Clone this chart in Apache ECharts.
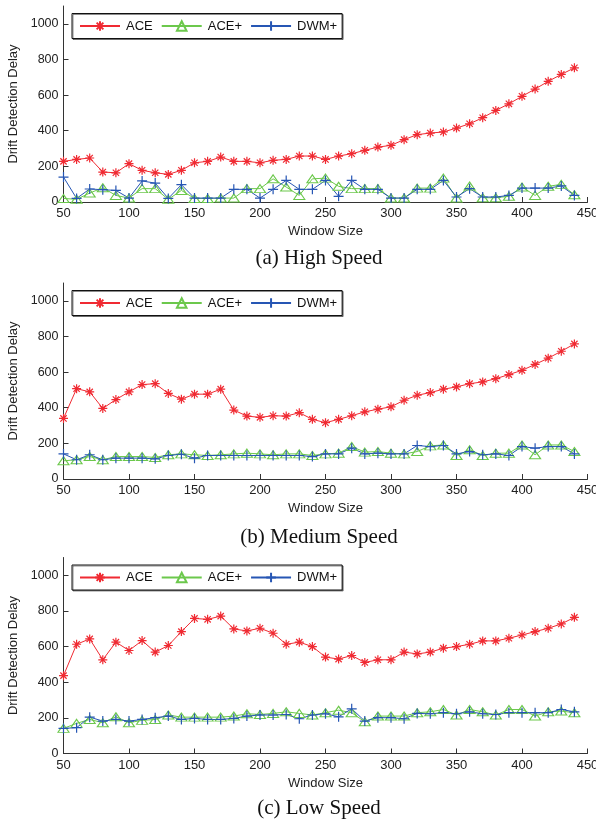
<!DOCTYPE html>
<html><head><meta charset="utf-8">
<script src="https://cdn.jsdelivr.net/npm/echarts@6/dist/echarts.min.js"></script>
<style>html,body{margin:0;padding:0;background:#fff}#c{width:596px;height:824px}</style>
</head><body><div id="c"></div>
<script>
const windowSizes = [50,60,70,80,90,100,110,120,130,140,150,160,170,180,190,200,210,220,230,240,250,260,270,280,290,300,310,320,330,340,350,360,370,380,390,400,410,420,430,440];
const xTicks = [50,100,150,200,250,300,350,400,450];
const yTicks = [0,200,400,600,800,1000];
const seriesNames = ['ACE','ACE+','DWM+'];
const captions = ['(a) High Speed','(b) Medium Speed','(c) Low Speed'];

// (a) High Speed
const highACE  = [228,239,247,168,164,215,178,164,155,178,220,228,252,228,228,220,234,239,258,258,239,258,271,290,308,318,350,378,387,393,415,439,473,514,551,593,634,677,716,753];
const highACEp = [20,15,50,80,37,22,75,75,15,65,20,20,22,22,75,75,130,84,37,130,134,88,75,75,75,22,22,78,78,134,22,90,24,24,32,84,37,88,99,41];
const highDWM  = [140,20,73,69,65,22,118,106,20,97,22,22,22,71,71,22,71,121,71,71,121,32,121,71,71,22,22,71,71,121,28,75,28,28,37,78,78,78,90,37];
// (b) Medium Speed
const medACE  = [340,507,489,396,446,489,530,535,480,448,476,476,504,387,353,346,355,353,372,335,316,335,355,377,392,405,442,470,485,504,517,535,545,563,586,610,643,678,717,758];
const medACEp = [102,108,126,108,126,126,126,121,136,141,136,132,136,141,145,141,136,141,141,132,141,145,182,151,154,145,141,154,186,191,132,164,132,145,145,191,136,191,191,154];
const medDWM  = [141,108,136,108,117,117,117,113,132,139,117,132,132,132,132,132,132,132,132,126,141,141,173,141,145,141,141,188,182,188,141,154,136,141,132,182,173,182,182,141];
// (c) Low Speed
const lowACE  = [437,613,643,526,625,578,634,569,606,684,758,753,771,699,688,703,675,613,625,600,541,530,550,511,526,526,569,559,569,591,600,613,632,632,647,665,684,703,727,764];
const lowACEp = [141,169,191,173,206,173,186,191,216,204,204,204,204,210,223,219,225,234,225,216,229,243,229,178,210,210,210,229,234,247,216,247,234,216,247,247,210,234,238,229];
const lowDWM  = [141,145,204,182,191,182,191,201,210,191,197,191,191,197,210,216,216,219,195,216,223,206,251,182,201,201,195,225,223,229,223,234,223,219,229,229,229,229,247,234];

const panels = [[highACE,highACEp,highDWM],[medACE,medACEp,medDWM],[lowACE,lowACEp,lowDWM]];
const gridTops = [6, 283, 557.5];
const captionY = [258, 537, 808];

const RED = '#f02a32', GREEN = '#6cc84c', BLUE = '#2656b4';
const starPath = 'path://M5 0L5 10M0 5L10 5M1.5 1.5L8.5 8.5M8.5 1.5L1.5 8.5';
const plusPath = 'path://M5 0L5 10M0 5L10 5';
const font = 'Liberation Sans, Arial, sans-serif';

const pairs = v => windowSizes.map((x,i)=>[x, v[i]]);

const grid=[], xAxis=[], yAxis=[], series=[], legend=[], graphic=[];
panels.forEach((p, k) => {
  grid.push({left: 63.5, right: 8.5, top: gridTops[k], height: 196, outerBoundsMode:'none', containLabel:false});
  xAxis.push({
    type:'value', gridIndex:k, min:50, max:450, interval:50,
    name:'Window Size', nameLocation:'middle', nameGap:23,
    nameTextStyle:{fontFamily:font, fontSize:13, color:'#222'},
    axisLine:{lineStyle:{color:'#333', width:1}},
    axisTick:{inside:true, length:5, lineStyle:{color:'#333'}, customValues: xTicks},
    axisLabel:{fontFamily:font, fontSize:13, color:'#222', margin:5, customValues: xTicks, formatter: v => String(v)},
    splitLine:{show:false}
  });
  yAxis.push({
    type:'value', gridIndex:k, min:0, max:1100, interval:200,
    name:'Drift Detection Delay', nameLocation:'middle', nameGap:44,
    nameTextStyle:{fontFamily:font, fontSize:13, color:'#222'},
    axisLine:{show:true, lineStyle:{color:'#333', width:1}},
    axisTick:{inside:true, length:5, lineStyle:{color:'#333'}, customValues: yTicks},
    axisLabel:{fontFamily:font, fontSize:12.5, color:'#222', margin:5, customValues: yTicks, formatter: v => String(v)},
    splitLine:{show:false}
  });
  series.push({
    name:seriesNames[0], type:'line', xAxisIndex:k, yAxisIndex:k, data:pairs(p[0]),
    symbol:starPath, symbolSize:9,
    itemStyle:{color:RED, borderColor:RED, borderWidth:1.2},
    lineStyle:{color:RED, width:1}, animation:false
  });
  series.push({
    name:seriesNames[1], type:'line', xAxisIndex:k, yAxisIndex:k, data:pairs(p[1]),
    symbol:'triangle', symbolSize:[11,8],
    itemStyle:{color:'rgba(255,255,255,0)', borderColor:GREEN, borderWidth:1.1},
    lineStyle:{color:GREEN, width:1}, animation:false
  });
  series.push({
    name:seriesNames[2], type:'line', xAxisIndex:k, yAxisIndex:k, data:pairs(p[2]),
    symbol:plusPath, symbolSize:10,
    itemStyle:{color:BLUE, borderColor:BLUE, borderWidth:1.2},
    lineStyle:{color:BLUE, width:1}, animation:false
  });
  legend.push({
    data:seriesNames, left:72, top:gridTops[k]+7.5, orient:'horizontal',
    itemWidth:40, itemHeight:12, itemGap:8,
    padding:[6,5,6,7],
    backgroundColor:'#fff', borderColor:'#111', borderWidth:1,
    shadowColor:'rgba(0,0,0,0.45)', shadowOffsetX:1, shadowOffsetY:1, shadowBlur:0,
    textStyle:{fontFamily:font, fontSize:13, color:'#111', padding:[0,0,0,1]},
    selectedMode:false
  });
  graphic.push({
    type:'text', x:319, y:captionY[k],
    style:{text:captions[k], textAlign:'center', textVerticalAlign:'middle',
      font:'21px "Liberation Serif", "Times New Roman", serif', fill:'#111'}
  });
});

const chart = echarts.init(document.getElementById('c'), null, {renderer:'canvas'});
chart.setOption({animation:false, backgroundColor:'#fff', grid, xAxis, yAxis, series, legend, graphic});
</script></body></html>
